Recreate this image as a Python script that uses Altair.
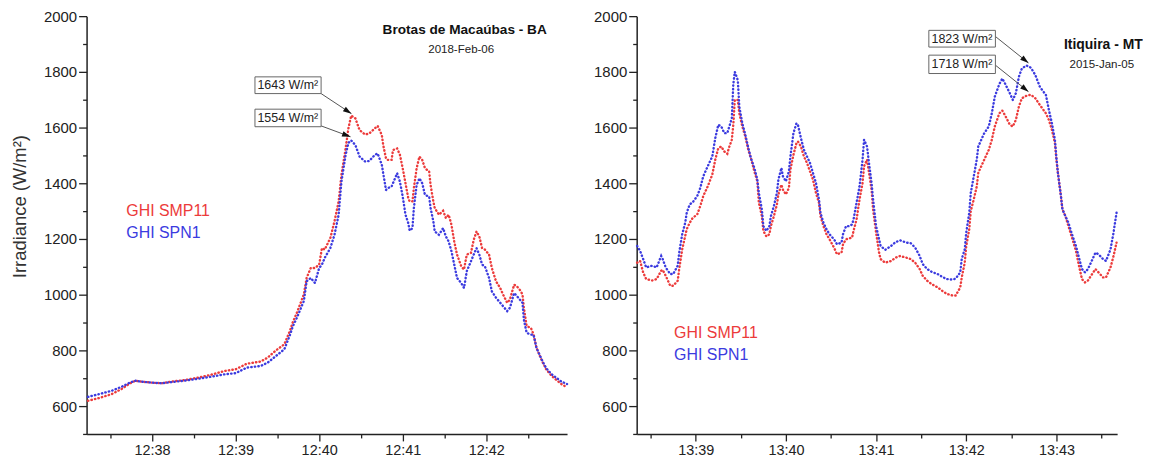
import altair as alt
import pandas as pd

FONT = "Liberation Sans"
RED = "#ec3b3b"
BLUE = "#3b3bdf"
AX = "#222222"

# ---------------- Left panel: Brotas de Macaúbas - BA (seconds after 12:37:00)
L_T = [14, 22, 31, 38, 44, 48, 52, 60, 67, 74,
       83, 93, 102, 112, 120, 128, 138, 143, 149, 155,
       159, 161, 164, 169, 171, 174, 177, 180, 182, 184,
       188, 191, 194, 196, 199, 201, 203, 206, 209, 213,
       216, 220, 222, 225, 226, 228, 229, 232, 233, 236,
       238, 240, 242, 244, 245, 247, 248, 250, 252, 254,
       256, 259, 260, 262, 263, 266, 269, 271, 273, 275,
       277, 279, 282, 284, 286, 289, 291, 293, 295, 297,
       299, 302, 304, 307, 310, 312, 315, 317, 320, 322,
       324, 326, 327, 329, 332, 334, 336, 340, 343, 347,
       351, 354, 358]
L_SMP11 = [619, 629, 643, 661, 681, 691, 688, 684, 682, 688,
           693, 702, 712, 726, 732, 752, 760, 774, 800, 822,
           870, 900, 935, 1001, 1060, 1096, 1096, 1108, 1167, 1162,
           1203, 1263, 1335, 1430, 1525, 1597, 1643, 1633, 1591, 1575,
           1579, 1597, 1606, 1573, 1537, 1489, 1484, 1484, 1519, 1525,
           1502, 1454, 1400, 1346, 1335, 1335, 1382, 1454, 1496, 1484,
           1454, 1442, 1394, 1335, 1311, 1287, 1301, 1275, 1287, 1251,
           1191, 1144, 1102, 1090, 1144, 1150, 1197, 1227, 1209, 1167,
           1162, 1144, 1096, 1048, 1024, 1001, 971, 983, 1036, 1030,
           1018, 1001, 953, 887, 881, 857, 810, 762, 732, 708,
           691, 679, 667]
L_SPN1 = [633, 643, 655, 669, 684, 691, 688, 684, 682, 686,
          691, 698, 705, 714, 718, 738, 744, 756, 780, 804,
          855, 885, 917, 977, 1048, 1060, 1042, 1096, 1108, 1132,
          1167, 1215, 1287, 1406, 1502, 1545, 1554, 1537, 1496, 1478,
          1480, 1502, 1507, 1466, 1436, 1376, 1382, 1388, 1400, 1436,
          1406, 1352, 1287, 1257, 1230, 1239, 1311, 1394, 1418, 1400,
          1358, 1352, 1311, 1263, 1227, 1215, 1239, 1209, 1191, 1156,
          1108, 1060, 1042, 1024, 1084, 1120, 1144, 1167, 1144, 1108,
          1102, 1060, 1012, 989, 971, 959, 941, 953, 1006, 995,
          983, 971, 911, 863, 857, 855, 810, 765, 736, 714,
          699, 688, 679]

# ---------------- Right panel: Itiquira - MT (seconds after 13:38:00)
R_T = [21, 23, 25, 27, 31, 34, 37, 38, 40, 43,
       45, 48, 49, 51, 53, 54, 56, 58, 61, 63,
       65, 68, 71, 73, 75, 77, 79, 81, 82, 84,
       85, 86, 88, 89, 91, 93, 95, 97, 99, 101,
       102, 104, 105, 107, 109, 110, 112, 114, 115, 117,
       118, 120, 122, 123, 125, 127, 128, 130, 132, 134,
       136, 138, 140, 142, 143, 145, 147, 149, 152, 154,
       157, 158, 160, 162, 164, 165, 167, 169, 171, 172,
       174, 175, 177, 178, 180, 182, 183, 186, 190, 193,
       196, 200, 203, 206, 209, 211, 214, 217, 221, 224,
       227, 231, 233, 236, 237, 239, 240, 242, 243, 245,
       247, 248, 250, 252, 255, 257, 259, 262, 264, 266,
       269, 271, 273, 275, 277, 280, 283, 286, 289, 293,
       295, 297, 299, 300, 301, 303, 304, 306, 308, 310,
       313, 315, 317, 319, 321, 323, 326, 328, 331, 333,
       336, 338, 340]
R_SMP11 = [1115, 1121, 1080, 1056, 1051, 1056, 1086, 1089, 1068, 1032,
           1032, 1050, 1092, 1163, 1211, 1235, 1258, 1276, 1288, 1318,
           1354, 1389, 1431, 1485, 1526, 1532, 1514, 1506, 1526, 1556,
           1610, 1699, 1699, 1651, 1604, 1568, 1520, 1485, 1443, 1407,
           1330, 1282, 1229, 1209, 1217, 1246, 1282, 1324, 1360, 1395,
           1377, 1360, 1383, 1449, 1502, 1544, 1550, 1532, 1496, 1473,
           1443, 1413, 1365, 1330, 1282, 1246, 1217, 1199, 1169, 1145,
           1151, 1181, 1199, 1202, 1205, 1229, 1270, 1342, 1401, 1461,
           1485, 1449, 1377, 1306, 1223, 1151, 1128, 1115, 1121, 1133,
           1139, 1133, 1128, 1115, 1092, 1068, 1050, 1038, 1026, 1014,
           1003, 997, 997, 1026, 1062, 1115, 1175, 1235, 1300, 1342,
           1389, 1437, 1461, 1485, 1520, 1556, 1604, 1651, 1661, 1642,
           1610, 1604, 1627, 1675, 1705, 1714, 1718, 1705, 1681, 1651,
           1627, 1592, 1544, 1485, 1437, 1354, 1306, 1282, 1246, 1211,
           1157, 1104, 1056, 1044, 1051, 1068, 1092, 1080, 1062, 1062,
           1098, 1139, 1187]
R_SPN1 = [1175, 1157, 1128, 1098, 1104, 1098, 1139, 1128, 1098, 1074,
          1074, 1104, 1151, 1217, 1258, 1294, 1324, 1332, 1354, 1383,
          1425, 1461, 1496, 1562, 1610, 1604, 1580, 1580, 1598, 1633,
          1756, 1800, 1770, 1675, 1615, 1574, 1526, 1485, 1455, 1413,
          1365, 1306, 1246, 1229, 1246, 1282, 1318, 1365, 1413, 1455,
          1425, 1407, 1443, 1496, 1580, 1615, 1610, 1562, 1520, 1496,
          1473, 1437, 1401, 1342, 1294, 1258, 1235, 1217, 1199, 1181,
          1187, 1217, 1246, 1246, 1252, 1270, 1330, 1389, 1485, 1556,
          1532, 1485, 1401, 1342, 1246, 1199, 1175, 1161, 1175, 1189,
          1195, 1187, 1185, 1169, 1139, 1110, 1092, 1082, 1074, 1064,
          1056, 1054, 1058, 1080, 1128, 1163, 1223, 1294, 1365, 1425,
          1485, 1532, 1556, 1580, 1604, 1651, 1711, 1756, 1776, 1756,
          1723, 1699, 1723, 1782, 1812, 1823, 1815, 1788, 1746, 1717,
          1663, 1615, 1556, 1491, 1437, 1354, 1306, 1282, 1258, 1223,
          1175, 1133, 1092, 1080, 1092, 1115, 1151, 1145, 1128, 1121,
          1163, 1223, 1294]

SERIES = ["GHI SMP11", "GHI SPN1"]
X_TICKS = [30, 60, 90, 120, 150, 180, 210, 240, 270, 300, 330]
Y_TICKS = [500, 600, 700, 800, 900, 1000, 1100, 1200, 1300, 1400,
           1500, 1600, 1700, 1800, 1900, 2000]

# annotation content
L_SITE, L_DATE = "Brotas de Macaúbas - BA", "2018-Feb-06"
R_SITE, R_DATE = "Itiquira - MT", "2015-Jan-05"
L_PEAKS = ["1643 W/m²", "1554 W/m²"]
R_PEAKS = ["1823 W/m²", "1718 W/m²"]

ARROW = "M0,0L-1.7,-0.55L-1.7,0.55Z"


def panel(t, smp, spn, domain, hh, mm0, ytitle, site, date, site_xy, date_xy,
          box_x, box_rows, peaks, arrows, legend_xy, site_size):
    df = pd.DataFrame({
        "t": list(t) * 2,
        "v": list(smp) + list(spn),
        "series": [SERIES[0]] * len(t) + [SERIES[1]] * len(t),
    })
    xs = alt.Scale(domain=domain, nice=False, zero=False)
    ys = alt.Scale(domain=[500, 2000], nice=False, zero=False)
    xaxis = alt.Axis(
        values=X_TICKS,
        labelExpr=f"datum.value % 60 == 0 ? '{hh}:' + ({mm0} + datum.value / 60) : ''",
        tickSize={"condition": {"test": "datum.value % 60 == 0", "value": 7}, "value": 4},
        title=None, labelFontSize=14.5, labelPadding=3, labelOverlap=False,
        labelFlush=False, grid=False,
    )
    yargs = dict(
        values=Y_TICKS,
        labelExpr="datum.value % 200 == 0 ? '' + datum.value : ''",
        tickSize={"condition": {"test": "datum.value % 200 == 0", "value": 8}, "value": 4},
        labelFontSize=15, labelPadding=2, labelOverlap=False, grid=False,
    )
    if ytitle:
        yargs.update(title=ytitle, titleFontSize=18.5, titleFont=FONT,
                     titleFontWeight="normal", titleColor="#333333",
                     titleX=-67, titleY=191, titleAngle=-90,
                     titleAlign="center", titleBaseline="middle")
    else:
        yargs.update(title=None)
    yaxis = alt.Axis(**yargs)

    X = alt.X("t:Q", scale=xs, axis=xaxis)
    Y = alt.Y("v:Q", scale=ys, axis=yaxis)

    lines = alt.Chart(df).mark_line(
        strokeWidth=2.4, strokeDash=[0.4, 3.2], strokeCap="round"
    ).encode(
        x=X, y=Y,
        color=alt.Color("series:N", scale=alt.Scale(domain=SERIES, range=[RED, BLUE]),
                        legend=None),
    )

    leg = pd.DataFrame({"t": [legend_xy[0]] * 2, "v": legend_xy[1],
                        "txt": SERIES, "col": [RED, BLUE]})
    legend = alt.Chart(leg).mark_text(
        align="left", baseline="middle", font=FONT, fontSize=16
    ).encode(x=X, y=Y, text="txt:N", color=alt.Color("col:N", scale=None))

    ttl = pd.DataFrame({"t": [site_xy[0]], "v": [site_xy[1]], "txt": [site]})
    title = alt.Chart(ttl).mark_text(
        align="center", baseline="middle", font=FONT, fontSize=site_size,
        fontWeight="bold", color="#111111"
    ).encode(x=X, y=Y, text="txt:N")
    dt = pd.DataFrame({"t": [date_xy[0]], "v": [date_xy[1]], "txt": [date]})
    dtext = alt.Chart(dt).mark_text(
        align="center", baseline="middle", font=FONT, fontSize=11.6, color="#222222"
    ).encode(x=X, y=Y, text="txt:N")

    bx = pd.DataFrame({
        "t": [box_x[0]] * 2, "t2": [box_x[1]] * 2,
        "v": [r[0] for r in box_rows], "v2": [r[1] for r in box_rows],
    })
    boxes = alt.Chart(bx).mark_rect(
        fill="white", stroke="#666666", strokeWidth=1
    ).encode(x=X, x2="t2:Q", y=Y, y2="v2:Q")
    bt = pd.DataFrame({
        "t": [box_x[0] + 1.8] * 2,
        "v": [(r[0] + r[1]) / 2 for r in box_rows],
        "txt": peaks,
    })
    btext = alt.Chart(bt).mark_text(
        align="left", baseline="middle", font=FONT, fontSize=12.5, color="#222222"
    ).encode(x=X, y=Y, text="txt:N")

    ar = pd.DataFrame({
        "t": [a[0] for a in arrows], "v": [a[1] for a in arrows],
        "t2": [a[2] for a in arrows], "v2": [a[3] for a in arrows],
        "ang": [a[4] for a in arrows],
    })
    shafts = alt.Chart(ar).mark_rule(color="#555555", strokeWidth=1).encode(
        x=X, y=Y, x2="t2:Q", y2="v2:Q")
    heads = alt.Chart(ar).mark_point(
        shape=ARROW, filled=True, color="#111111", size=100, opacity=1
    ).encode(x=alt.X("t2:Q", scale=xs, axis=xaxis), y=alt.Y("v2:Q", scale=ys, axis=yaxis),
             angle=alt.Angle("ang:Q", scale=None))

    return alt.layer(lines, legend, title, dtext, shafts, boxes, btext, heads).properties(
        width=483, height=420)


left = panel(
    L_T, L_SMP11, L_SPN1, [13, 358], 12, 37, "Irradiance (W/m²)",
    L_SITE, L_DATE, (284.5, 1951), (282.0, 1878),
    (133.9, 181.4), [(1722, 1782), (1603, 1666)], L_PEAKS,
    [(181.4, 1722, 203.2, 1650, 33), (181.4, 1606, 202.5, 1567, 20)],
    (41.5, [1299, 1220]), 13.7,
)
right = panel(
    R_T, R_SMP11, R_SPN1, [20.7, 340.4], 13, 38, None,
    R_SITE, R_DATE, (331.2, 1897.5), (330.2, 1824),
    (215.1, 259.4), [(1889, 1949), (1794, 1860)], R_PEAKS,
    [(259.4, 1927, 281.4, 1832, 38.7), (259.4, 1824, 281.4, 1729, 38.7)],
    (45.6, [863, 782]), 14,
)

chart = alt.hconcat(left, right, spacing=21).properties(
    padding={"left": 3, "top": 0, "right": 0, "bottom": 0}
).configure_view(stroke=None).configure_axis(
    domainColor=AX, domainWidth=1.5, tickColor=AX, tickWidth=1.3,
    labelFont=FONT, labelColor=AX,
)

chart.save("out.html", embed_options={"renderer": "svg", "actions": False})
